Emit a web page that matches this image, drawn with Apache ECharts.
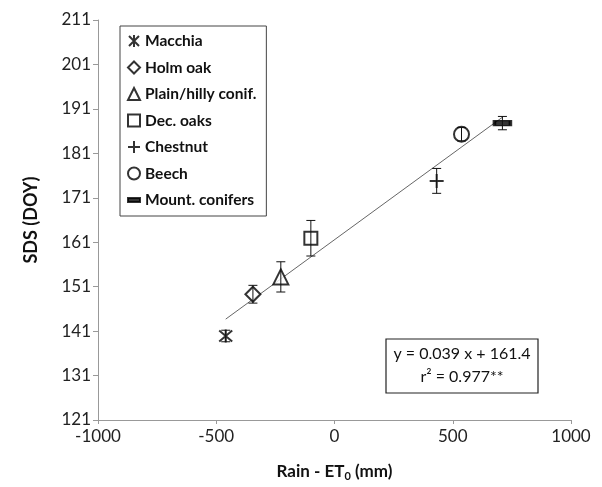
<!DOCTYPE html>
<html>
<head>
<meta charset="utf-8">
<script src="https://cdn.jsdelivr.net/npm/echarts@6/dist/echarts.min.js"></script>
<style>
  html, body { margin: 0; padding: 0; background: #fff; }
  #chart { width: 602px; height: 487px; }
</style>
</head>
<body>
<div id="chart"></div>
<script>
// values
const species = ['Macchia', 'Holm oak', 'Plain/hilly conif.', 'Dec. oaks', 'Chestnut', 'Beech', 'Mount. conifers'];
const rainEt0 = [-460, -345, -227, -100, 432, 537, 710];
const sds = [139.9, 149.3, 153.2, 161.9, 174.8, 185.3, 187.8];
const sdsErr = [1.3, 2.0, 3.4, 4.0, 2.8, 1.5, 1.5];
const fitX = [-460, 712];
const fitY = [143.7, 189.2];
const xTicks = [-1000, -500, 0, 500, 1000];
const yTicks = [121, 131, 141, 151, 161, 171, 181, 191, 201, 211];

const FONT = 'Lato';
const STAR = 'path://M-1,-1 L1,1 M1,-1 L-1,1 M0,-1.2 L0,1.2';
const PLUS = 'path://M0,-1 L0,1 M-1,0 L1,0';

const markers = [
  { symbol: STAR, size: 13, fill: 'rgba(0,0,0,0)' },
  { symbol: 'diamond', size: 15, fill: '#fff' },
  { symbol: 'triangle', size: 15, fill: '#fff' },
  { symbol: 'rect', size: 13, fill: '#fff' },
  { symbol: PLUS, size: 14, fill: 'rgba(0,0,0,0)' },
  { symbol: 'circle', size: 15, fill: '#fff' },
  { symbol: 'rect', size: [16, 5], fill: '#000' }
];

const chart = echarts.init(document.getElementById('chart'));

const errData = rainEt0.map((x, i) => [x, sds[i] - sdsErr[i], sds[i] + sdsErr[i]]);

const series = [
  {
    type: 'line',
    data: fitX.map((x, i) => [x, fitY[i]]),
    showSymbol: false,
    silent: true,
    lineStyle: { color: '#666', width: 1 },
    z: 1
  },
  {
    type: 'custom',
    data: errData,
    silent: true,
    z: 5,
    renderItem(params, api) {
      const lo = api.coord([api.value(0), api.value(1)]);
      const hi = api.coord([api.value(0), api.value(2)]);
      const w = 4.5;
      const st = { stroke: '#111', lineWidth: 1 };
      return {
        type: 'group',
        children: [
          { type: 'line', shape: { x1: lo[0], y1: lo[1], x2: hi[0], y2: hi[1] }, style: st },
          { type: 'line', shape: { x1: lo[0] - w, y1: lo[1], x2: lo[0] + w, y2: lo[1] }, style: st },
          { type: 'line', shape: { x1: hi[0] - w, y1: hi[1], x2: hi[0] + w, y2: hi[1] }, style: st }
        ]
      };
    }
  }
];

species.forEach((name, i) => {
  const m = markers[i];
  series.push({
    name: name,
    type: 'scatter',
    data: [[rainEt0[i], sds[i]]],
    symbol: m.symbol,
    symbolSize: m.size,
    itemStyle: { color: m.fill, borderColor: '#000', borderWidth: 2 },
    z: 3
  });
});

chart.setOption({
  animation: false,
  backgroundColor: '#fff',
  grid: { left: 98, right: 31, top: 20, bottom: 67 },
  legend: {
    orient: 'vertical',
    left: 120,
    top: 26,
    padding: [7, 10, 8, 7],
    itemGap: 10.5,
    itemWidth: 12,
    itemHeight: 12,
    borderColor: '#444',
    borderWidth: 1,
    backgroundColor: '#fff',
    data: species.map((name, i) => ({
      name: name,
      icon: i === 6 ? 'path://M0,0 H12 V4 H0 Z' : undefined
    })),
    textStyle: { fontFamily: FONT, fontSize: 15.5, fontWeight: 'bold', color: '#111' }
  },
  xAxis: {
    type: 'value',
    min: xTicks[0],
    max: xTicks[xTicks.length - 1],
    interval: 500,
    splitLine: { show: false },
    axisLine: { onZero: false, lineStyle: { color: '#999' } },
    axisTick: { show: true, length: 4, lineStyle: { color: '#999' } },
    axisLabel: { fontFamily: FONT, fontSize: 17, color: '#222', margin: 8, formatter: (v) => String(v) },
    name: '{b|Rain - ET}{s|0}{b| (mm)}',
    nameLocation: 'middle',
    nameGap: 42,
    nameTextStyle: {
      rich: {
        b: { fontFamily: FONT, fontSize: 17, fontWeight: 'bold', color: '#111' },
        s: { fontFamily: FONT, fontSize: 11, fontWeight: 'bold', color: '#111', padding: [9, 0, 0, 0] }
      }
    }
  },
  yAxis: {
    type: 'value',
    min: yTicks[0],
    max: yTicks[yTicks.length - 1],
    interval: 10,
    splitLine: { show: false },
    axisLine: { show: true, onZero: false, lineStyle: { color: '#999' } },
    axisTick: { show: true, length: 5, lineStyle: { color: '#999' } },
    axisLabel: { fontFamily: FONT, fontSize: 17, color: '#222', margin: 7, formatter: (v) => String(v) },
    name: 'SDS (DOY)',
    nameLocation: 'middle',
    nameGap: 58,
    nameRotate: 90,
    nameTextStyle: { fontFamily: FONT, fontSize: 18, fontWeight: 'bold', color: '#111' }
  },
  graphic: [
    {
      type: 'rect',
      shape: { x: 386, y: 339, width: 152, height: 54 },
      style: { fill: '#fff', stroke: '#222', lineWidth: 1.2 },
      z: 10
    },
    {
      type: 'text',
      x: 462, y: 354,
      style: { text: 'y = 0.039 x + 161.4', font: '16px Lato', fill: '#111', align: 'center', verticalAlign: 'middle' },
      z: 11
    },
    {
      type: 'text',
      x: 462, y: 377,
      style: { text: 'r\u00b2 = 0.977**', font: '16px Lato', fill: '#111', align: 'center', verticalAlign: 'middle' },
      z: 11
    }
  ],
  series: series
});
</script>
</body>
</html>
